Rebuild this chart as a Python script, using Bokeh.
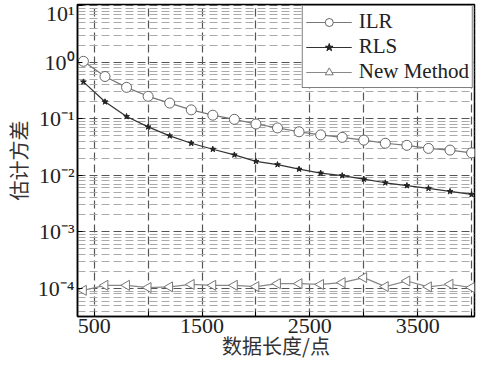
import numpy as np
from bokeh.plotting import figure
from bokeh.models import FixedTicker, Legend, LegendItem, Range1d
from bokeh.embed import file_html
from bokeh.resources import INLINE

# ---- data ----
n_points = [400, 600, 800, 1000, 1200, 1400, 1600, 1800, 2000, 2200,
            2400, 2600, 2800, 3000, 3200, 3400, 3600, 3800, 4000]
ilr = [1.04, 0.56, 0.36, 0.25, 0.19, 0.144, 0.116, 0.098, 0.081, 0.069,
       0.059, 0.052, 0.047, 0.042, 0.037, 0.034, 0.030, 0.028, 0.025]
rls = [0.45, 0.20, 0.11, 0.072, 0.050, 0.037, 0.029, 0.023, 0.0177, 0.0155,
       0.0129, 0.011, 0.0099, 0.0086, 0.0074, 0.0066, 0.0059, 0.0052, 0.0046]
new_method = [0.93e-4, 1.14e-4, 1.14e-4, 1.04e-4, 1.07e-4, 1.18e-4, 1.14e-4, 1.14e-4,
              1.08e-4, 1.22e-4, 1.22e-4, 1.18e-4, 1.27e-4, 1.56e-4, 1.08e-4,
              1.36e-4, 1.07e-4, 1.19e-4, 1.04e-4]

x_ticks = [500, 1000, 1500, 2000, 2500, 3000, 3500, 4000]
x_tick_labels = ["500", "", "1500", "", "2500", "", "3500", ""]
y_ticks = [1e-4, 1e-3, 1e-2, 1e-1, 1e0, 1e1]
y_tick_labels = ["10⁻⁴", "10⁻³", "10⁻²", "10⁻¹", "10⁰", "10¹"]
series_names = ["ILR", "RLS", "New Method"]
x_label = "数据长度/点"
y_label = "估计方差"

serif = "Liberation Serif"
cjk = "Noto Sans CJK SC"

p = figure(width=476, height=362, y_axis_type="log",
           x_range=Range1d(345, 4027), y_range=Range1d(3.2e-5, 10.5),
           output_backend="svg", toolbar_location=None,
           min_border_left=70, min_border_right=2, min_border_top=4, min_border_bottom=46)

p.outline_line_color = "black"
p.outline_line_width = 1.5
p.background_fill_color = "white"

# ticks
minor_y = [k * 10.0 ** e for e in range(-5, 1) for k in range(2, 10)]
p.yaxis.ticker = FixedTicker(ticks=y_ticks, minor_ticks=minor_y)
p.xaxis.ticker = FixedTicker(ticks=x_ticks)
p.xaxis.major_label_overrides = {t: l for t, l in zip(x_ticks, x_tick_labels)}
p.yaxis.major_label_overrides = {t: l for t, l in zip(y_ticks, y_tick_labels)}

for ax in (p.xaxis, p.yaxis):
    ax.major_label_text_font = serif
    ax.major_label_text_font_size = "22px"
    ax.major_label_text_color = "#222222"
    ax.axis_line_color = "black"
    ax.axis_line_width = 1.5
    ax.major_tick_in = 5
    ax.major_tick_out = 0
    ax.minor_tick_in = 0
    ax.minor_tick_out = 0
    ax.major_tick_line_color = "black"
    ax.axis_label_text_font = cjk
    ax.axis_label_text_font_size = "20px"
    ax.axis_label_text_font_style = "normal"
    ax.axis_label_text_color = "#333333"

p.xaxis.axis_label = x_label
p.yaxis.axis_label = y_label
p.xaxis.major_label_standoff = 2
p.yaxis.major_label_standoff = 3
p.xaxis.axis_label_standoff = -5
p.yaxis.axis_label_standoff = 2

# grid
p.xgrid.grid_line_color = "#555555"
p.xgrid.grid_line_dash = "8 4"
p.xgrid.grid_line_width = 1.2
p.ygrid.grid_line_color = "#555555"
p.ygrid.grid_line_dash = "8 4"
p.ygrid.grid_line_width = 1.2
p.ygrid.minor_grid_line_color = "#aaaaaa"
p.ygrid.minor_grid_line_dash = "8 4"
p.ygrid.minor_grid_line_width = 1.0

# series
r1l = p.line(n_points, ilr, line_color="#777777", line_width=1.2)
r1m = p.scatter(n_points, ilr, marker="circle", size=10, fill_color="white",
                line_color="#666666", line_width=1.0)
r2l = p.line(n_points, rls, line_color="#333333", line_width=1.2)
r2m = p.scatter(n_points, rls, marker="star", size=6, fill_color="#222222",
                line_color="#222222")
r3l = p.line(n_points, new_method, line_color="#888888", line_width=1.2)
r3m = p.scatter(n_points, new_method, marker="triangle", size=10, angle=90,
                angle_units="deg",
                fill_color="white", line_color="#777777", line_width=1.0)

legend = Legend(items=[
    LegendItem(label=series_names[0], renderers=[r1l, r1m]),
    LegendItem(label=series_names[1], renderers=[r2l, r2m]),
    LegendItem(label=series_names[2], renderers=[r3l, r3m]),
], location="top_right")
legend.label_text_font = serif
legend.label_text_font_size = "21px"
legend.label_text_color = "#222222"
legend.label_height = 20
legend.glyph_height = 20
legend.glyph_width = 46
legend.label_standoff = 7
legend.spacing = 0
legend.padding = 3
legend.margin = 1
legend.border_line_color = "black"
legend.border_line_width = 1.5
legend.background_fill_alpha = 1.0
p.add_layout(legend)

open("out.html", "w").write(file_html(p, INLINE))
